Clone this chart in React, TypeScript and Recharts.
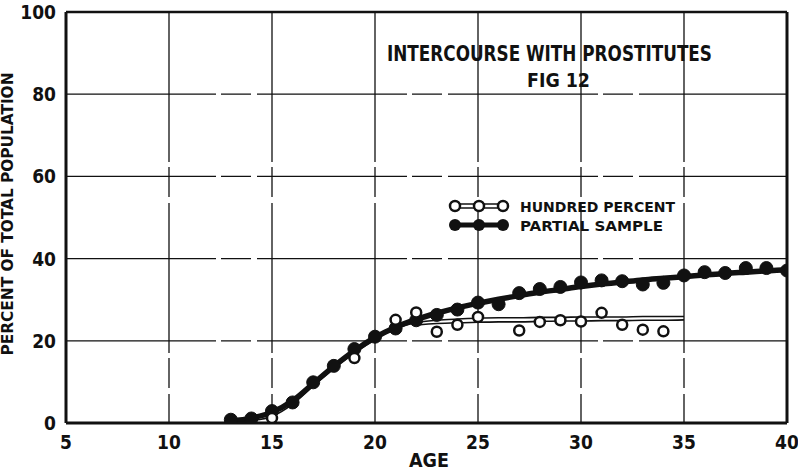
import React from 'react';
import {
  ComposedChart,
  Line,
  XAxis,
  YAxis,
  CartesianGrid,
  ReferenceLine,
} from 'recharts';

// ---- data ----
const ages = [13, 14, 15, 16, 17, 18, 19, 20, 21, 22, 23, 24, 25, 26, 27, 28, 29, 30, 31, 32, 33, 34, 35, 36, 37, 38, 39, 40];

// Partial sample observed points (filled circles)
const partialSample = [0.8, 1.1, 2.9, 5.0, 9.9, 13.9, 18.0, 21.0, 23.0, 25.0, 26.3, 27.6, 29.3, 28.9, 31.6, 32.6, 33.1, 34.2, 34.7, 34.5, 33.7, 34.1, 35.9, 36.7, 36.5, 37.7, 37.7, 37.1];

// Hundred percent observed points (open circles) — only those visible
const hundredPercent: (number | null)[] = [null, null, 1.2, null, null, null, 15.8, null, 25.1, 26.9, 22.2, 23.9, 25.8, null, 22.5, 24.6, 25.0, 24.7, 26.8, 23.9, 22.7, 22.3, null, null, null, null, null, null];

// Fitted curve, partial sample (thick line)
const partialCurve = [0.5, 1.2, 2.6, 5.4, 9.6, 13.8, 17.6, 20.8, 23.3, 25.2, 26.7, 28.0, 29.1, 30.1, 31.0, 31.8, 32.5, 33.2, 33.8, 34.3, 34.8, 35.2, 35.6, 36.0, 36.4, 36.7, 37.0, 37.3];

// Fitted curves, hundred percent (thin double line)
const hundredCurveA: (number | null)[] = [0.3, 0.6, 1.6, 4.6, 9.0, 13.3, 17.0, 20.3, 23.0, 24.4, 25.0, 25.3, 25.5, 25.6, 25.6, 25.7, 25.7, 25.8, 25.8, 25.8, 25.9, 25.9, 25.9, null, null, null, null, null];
const hundredCurveB: (number | null)[] = [null, null, null, null, null, null, null, null, null, 23.8, 24.2, 24.4, 24.5, 24.6, 24.6, 24.7, 24.8, 24.8, 24.9, 24.9, 25.0, 25.0, 25.1, null, null, null, null, null];

const xTicks = [5, 10, 15, 20, 25, 30, 35, 40];
const yTicks = [0, 20, 40, 60, 80, 100];

const legendLabels = ['HUNDRED PERCENT', 'PARTIAL SAMPLE'];
const titleText = 'INTERCOURSE WITH PROSTITUTES';
const figText = 'FIG 12';
const xLabel = 'AGE';
const yLabel = 'PERCENT OF TOTAL POPULATION';

const rows = ages.map((age, i) => ({
  age,
  partial: partialSample[i],
  hundred: hundredPercent[i],
  partialFit: partialCurve[i],
  hundredFitA: hundredCurveA[i],
  hundredFitB: hundredCurveB[i],
}));

const FONT = '"DejaVu Sans Condensed", "Liberation Sans Narrow", "DejaVu Sans", sans-serif';
const INK = '#111';

const XTick = (props: any) => {
  const { x, y, payload } = props;
  return (
    <text x={x} y={y + 16} textAnchor="middle" fontFamily={FONT} fontWeight="bold" fontSize={19} fill={INK}>
      {payload.value}
    </text>
  );
};

const YTick = (props: any) => {
  const { x, y, payload } = props;
  return (
    <text x={x} y={y + 7} textAnchor="end" fontFamily={FONT} fontWeight="bold" fontSize={19} fill={INK}>
      {payload.value}
    </text>
  );
};

export default function App() {
  return (
    <div style={{ position: 'absolute', left: 0, top: 0, width: 798, height: 473, background: '#fff' }}>
      <ComposedChart
        width={798}
        height={473}
        data={rows}
        margin={{ top: 12, right: 11, bottom: 0, left: 0 }}
      >
        <CartesianGrid stroke={INK} strokeWidth={1.3} strokeDasharray="150 5 30 6" />
        <XAxis
          dataKey="age"
          type="number"
          domain={[5, 40]}
          ticks={xTicks}
          height={50}
          tickLine={false}
          tickSize={0}
          tickMargin={10}
          axisLine={{ stroke: INK, strokeWidth: 3 }}
          tick={<XTick />}
          interval={0}
          allowDataOverflow
        />
        <YAxis
          type="number"
          domain={[0, 100]}
          ticks={yTicks}
          width={66}
          tickLine={false}
          tickSize={0}
          tickMargin={10}
          axisLine={{ stroke: INK, strokeWidth: 3 }}
          tick={<YTick />}
          interval={0}
          allowDataOverflow
        />
        <ReferenceLine x={40} stroke={INK} strokeWidth={3} />
        <ReferenceLine y={100} stroke={INK} strokeWidth={2.5} />
        <Line
          dataKey="hundredFitA"
          type="monotone"
          stroke={INK}
          strokeWidth={1.6}
          dot={false}
          activeDot={false}
          isAnimationActive={false}
        />
        <Line
          dataKey="hundredFitB"
          type="monotone"
          stroke={INK}
          strokeWidth={1.6}
          dot={false}
          activeDot={false}
          isAnimationActive={false}
        />
        <Line
          dataKey="partialFit"
          type="monotone"
          stroke={INK}
          strokeWidth={5.5}
          dot={false}
          activeDot={false}
          isAnimationActive={false}
        />
        <Line
          dataKey="partial"
          stroke="none"
          dot={{ r: 6.5, fill: INK, stroke: INK, strokeWidth: 1 }}
          activeDot={false}
          isAnimationActive={false}
        />
        <Line
          dataKey="hundred"
          stroke="none"
          dot={{ r: 5, fill: '#fff', stroke: INK, strokeWidth: 2.5 }}
          activeDot={false}
          isAnimationActive={false}
        />
      </ComposedChart>

      <svg
        width={798}
        height={473}
        style={{ position: 'absolute', left: 0, top: 0, pointerEvents: 'none' }}
      >
        <g fontFamily={FONT} fontWeight="bold" fill={INK}>
          <text x={387} y={61} fontSize={22} textLength={325} lengthAdjust="spacingAndGlyphs">
            {titleText}
          </text>
          <text x={527} y={87} fontSize={19} textLength={63} lengthAdjust="spacingAndGlyphs">
            {figText}
          </text>
          <text x={409} y={467} fontSize={19} textLength={40} lengthAdjust="spacingAndGlyphs">
            {xLabel}
          </text>
          <text
            x={0}
            y={0}
            fontSize={15}
            textAnchor="middle"
            transform="translate(13, 214) rotate(-90)"
            textLength={283}
            lengthAdjust="spacingAndGlyphs"
          >
            {yLabel}
          </text>

          {/* legend */}
          <line x1={455} y1={204} x2={503} y2={204} stroke={INK} strokeWidth={1.5} />
          <line x1={455} y1={208} x2={503} y2={208} stroke={INK} strokeWidth={1.5} />
          {[455, 479, 503].map((cx) => (
            <circle key={'o' + cx} cx={cx} cy={206} r={5} fill="#fff" stroke={INK} strokeWidth={2.5} />
          ))}
          <line x1={455} y1={225} x2={503} y2={225} stroke={INK} strokeWidth={5} />
          {[455, 479, 503].map((cx) => (
            <circle key={'f' + cx} cx={cx} cy={225} r={6} fill={INK} />
          ))}
          <text x={520} y={212} fontSize={14} textLength={155} lengthAdjust="spacingAndGlyphs">
            {legendLabels[0]}
          </text>
          <text x={520} y={231} fontSize={14} textLength={143} lengthAdjust="spacingAndGlyphs">
            {legendLabels[1]}
          </text>
        </g>
      </svg>
    </div>
  );
}
